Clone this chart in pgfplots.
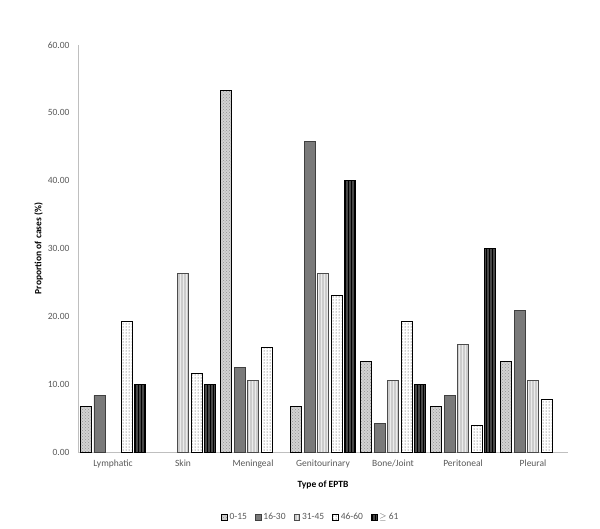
\documentclass[border=0pt]{standalone}
\usepackage{fontspec}
\setmainfont{Carlito}
\usepackage{pgfplots}
\pgfplotsset{compat=1.18}
\usetikzlibrary{patterns}
\definecolor{txt}{HTML}{595959}
\definecolor{axl}{HTML}{BFBFBF}
\begin{document}
\begin{tikzpicture}
\useasboundingbox (-78pt,-76pt) rectangle (522pt,452pt);
\begin{axis}[
  at={(0,0)}, anchor=south west,
  scale only axis,
  width=490pt, height=407pt,
  ybar=2.5pt,
  bar width=11pt,
  xmin=-0.5, xmax=6.5,
  ymin=0, ymax=60,
  ytick={0,10,...,60},
  xtick={0,...,6},
  xticklabels={Lymphatic,Skin,Meningeal,Genitourinary,Bone/Joint,Peritoneal,Pleural},
  major tick length=0pt,
  axis x line*=bottom, axis y line*=left,
  axis line style={draw=axl, line width=0.8pt},
  separate axis lines,
  x axis line style={-}, y axis line style={-},
  yticklabel style={xshift=-5pt, /pgf/number format/.cd, fixed, fixed zerofill, precision=2, assume math mode=true},
  tick label style={font=\fontsize{9.5}{10}\selectfont, text=txt},
  xticklabel style={yshift=-4pt},
  xlabel={\textbf{Type of EPTB}},
  ylabel={\textbf{Proportion of cases (\%)}},
  label style={font=\fontsize{9.5}{10}\selectfont, text=black},
  xlabel style={yshift=-6pt},
  ylabel style={yshift=-2pt},
  legend style={at={(0.475,-0.16)}, anchor=center, legend columns=-1, draw=none,
    font=\fontsize{9.5}{10}\selectfont, text=txt,
    /tikz/every even column/.append style={column sep=6pt}},
  legend image code/.code={\draw[#1] (0cm,-0.1cm) rectangle (0.2cm,0.1cm);},
]
\addplot[draw=black, line width=0.8pt, fill=gray!35, postaction={pattern=crosshatch dots, pattern color=gray!85}]
  coordinates {(0,6.67) (2,53.33) (3,6.67) (4,13.33) (5,6.67) (6,13.33)};
\addlegendentry{0-15}
\addplot[draw=black!75, line width=0.8pt, fill=black!52]
  coordinates {(0,8.33) (2,12.50) (3,45.83) (4,4.17) (5,8.33) (6,20.83)};
\addlegendentry{16-30}
\addplot[draw=black!70, line width=0.8pt, fill=gray!40, postaction={pattern=vertical lines, pattern color=white!85!gray}]
  coordinates {(1,26.32) (2,10.53) (3,26.32) (4,10.53) (5,15.79) (6,10.53)};
\addlegendentry{31-45}
\addplot[draw=black, line width=0.8pt, fill=white, postaction={pattern=dots, pattern color=black!80}]
  coordinates {(0,19.23) (1,11.54) (2,15.38) (3,23.08) (4,19.23) (5,3.85) (6,7.69)};
\addlegendentry{46-60}
\addplot[draw=black, line width=0.8pt, fill=black!72, postaction={pattern=vertical lines, pattern color=black}]
  coordinates {(0,10) (1,10) (3,40) (4,10) (5,30)};
\addlegendentry{$\geq$ 61}
\end{axis}
\end{tikzpicture}
\end{document}
